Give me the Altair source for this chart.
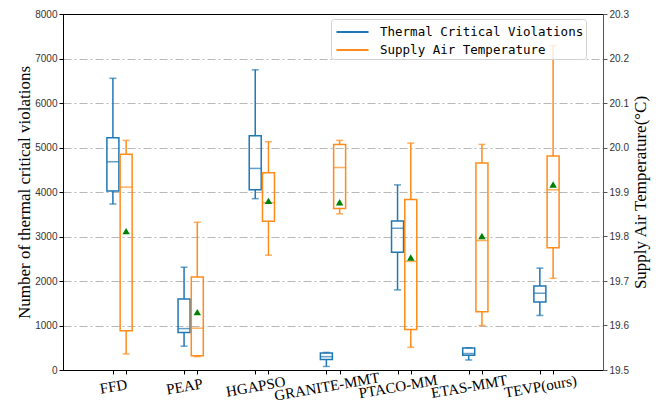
import json
import altair as alt
import pandas as pd

categories = ["FFD", "PEAP", "HGAPSO", "GRANITE-MMT", "PTACO-MM", "ETAS-MMT", "TEVP(ours)"]

# Thermal critical violations (left axis)
viol_whislo = [3730, 535, 3850, 80, 1800, 225, 1225]
viol_q1 = [4025, 840, 4050, 235, 2645, 330, 1530]
viol_med = [4680, 930, 4530, 300, 3185, 370, 1725]
viol_q3 = [5220, 1595, 5265, 380, 3350, 495, 1885]
viol_whishi = [6555, 2310, 6745, 395, 4160, 500, 2290]

# Supply air temperature (right axis)
temp_whislo = [19.536, 19.530, 19.758, 19.851, 19.551, 19.600, 19.706]
temp_q1 = [19.588, 19.532, 19.834, 19.863, 19.591, 19.631, 19.775]
temp_med = [19.911, 19.594, 19.876, 19.955, 19.744, 19.791, 19.905]
temp_q3 = [19.985, 19.709, 19.943, 20.007, 19.883, 19.965, 19.981]
temp_whishi = [20.016, 19.832, 20.013, 20.016, 20.010, 20.007, 20.229]
temp_mean = [19.812, 19.630, 19.880, 19.877, 19.753, 19.801, 19.917]

left_ticks = [0, 1000, 2000, 3000, 4000, 5000, 6000, 7000, 8000]
right_ticks = [19.5, 19.6, 19.7, 19.8, 19.9, 20.0, 20.1, 20.2, 20.3]

LEG_V = "\u00a0Thermal Critical Violations"
LEG_T = "Supply Air Temperature"
BLUE = "#1f77b4"
ORANGE = "#ff8c1a"
OFF = 0.093

df_v = pd.DataFrame({
    "cat": categories,
    "x": [i - OFF for i in range(len(categories))],
    "lo": viol_whislo, "q1": viol_q1, "med": viol_med, "q3": viol_q3, "hi": viol_whishi,
    "series": LEG_V,
})
df_t = pd.DataFrame({
    "cat": categories,
    "x": [i + OFF for i in range(len(categories))],
    "lo": temp_whislo, "q1": temp_q1, "med": temp_med, "q3": temp_q3, "hi": temp_whishi,
    "mean": temp_mean,
    "series": LEG_T,
})

xvals = sorted(list(df_v["x"]) + list(df_t["x"]))
label_expr = "datum.value < round(datum.value) ? " + json.dumps(categories) + "[round(datum.value)] : ''"

x_enc = alt.X(
    "x:Q",
    scale=alt.Scale(domain=[-0.724, 6.724], nice=False, zero=False),
    axis=alt.Axis(
        values=xvals, labelExpr=label_expr, title=None, grid=False,
        labelAngle=350, labelAlign="center", labelBaseline="middle",
        labelPadding=12, tickSize=4, tickColor="black", domainColor="black",
        labelFont="Liberation Serif", labelFontSize=15, labelColor="black",
        labelOverlap=False, labelBound=False, labelFlush=False,
    ),
)

left_axis = alt.Axis(
    values=left_ticks, format="d", grid=True, gridColor="#b8b8b8",
    gridOpacity=alt.condition("datum.value == 0 || datum.value == 8000", alt.value(0), alt.value(1)),
    gridDash=[8, 3, 2, 3], gridWidth=1, tickSize=4, tickColor="black",
    domainColor="black", labelFont="Liberation Sans", labelFontSize=10,
    labelColor="#333333", title="Number of thermal critical violations",
    titleFont="Liberation Serif", titleFontSize=17, titleFontWeight="normal",
    titleColor="black", titlePadding=1,
)
right_axis = alt.Axis(
    orient="right", values=right_ticks, format=".1f", grid=False, tickSize=4,
    tickColor="#555555", domainColor="#555555", labelFont="Liberation Sans",
    labelFontSize=10, labelColor="#333333", title="Supply Air Temperature(°C)",
    titleFont="Liberation Serif", titleFontSize=17, titleFontWeight="normal",
    titleColor="black", titleAngle=270, titleBaseline="top", titlePadding=4,
)

lscale = alt.Scale(domain=[0, 8000], nice=False, zero=False)
rscale = alt.Scale(domain=[19.5, 20.3], nice=False, zero=False)

stroke_enc = alt.Stroke(
    "series:N",
    scale=alt.Scale(domain=[LEG_V, LEG_T], range=[BLUE, ORANGE]),
    legend=alt.Legend(
        title=None, orient="none", legendX=268, legendY=5, direction="vertical",
        symbolType="M-1.6,0H1.6", symbolSize=400, symbolStrokeWidth=2,
        symbolOffset=8.5, labelOffset=16.5, labelLimit=400,
        labelFont="DejaVu Sans Mono", labelFontSize=12.5, labelColor="black",
        fillColor="rgba(255,255,255,0.8)", strokeColor="#d0d0d0", cornerRadius=3,
        padding=2, rowPadding=0,
    ),
)


def group(df, color, scale, axis, with_mean=False):
    def Y(f):
        return alt.Y(f, type="quantitative", scale=scale, axis=axis)

    base = alt.Chart(df)
    layers = [
        base.mark_rule(color=color, strokeWidth=1.5).encode(x=x_enc, y=Y("lo"), y2="q1"),
        base.mark_rule(color=color, strokeWidth=1.5).encode(x=x_enc, y=Y("q3"), y2="hi"),
        base.mark_tick(color=color, orient="horizontal", size=7, thickness=1.5).encode(x=x_enc, y=Y("lo")),
        base.mark_tick(color=color, orient="horizontal", size=7, thickness=1.5).encode(x=x_enc, y=Y("hi")),
        base.mark_bar(size=12, fillOpacity=0, strokeWidth=1.5).encode(x=x_enc, y=Y("q1"), y2="q3", stroke=stroke_enc),
        base.mark_tick(color=color, orient="horizontal", size=12, thickness=1.5).encode(x=x_enc, y=Y("med")),
    ]
    if with_mean:
        layers.append(
            base.mark_point(shape="triangle-up", filled=True, color="green", size=55, opacity=1).encode(x=x_enc, y=Y("mean"))
        )
    return alt.layer(*layers)


left = group(df_v, BLUE, lscale, left_axis)
right = group(df_t, ORANGE, rscale, right_axis, with_mean=True)

chart = (
    alt.layer(left, right)
    .resolve_scale(y="independent")
    .properties(
        width=540, height=356,
        autosize=alt.AutoSizeParams(type="none"),
        padding={"left": 55, "top": 6, "right": 57, "bottom": 33},
    )
    .configure_view(stroke="black", strokeWidth=1)
)

chart.save("out.html", embed_options={"renderer": "svg", "actions": False})
